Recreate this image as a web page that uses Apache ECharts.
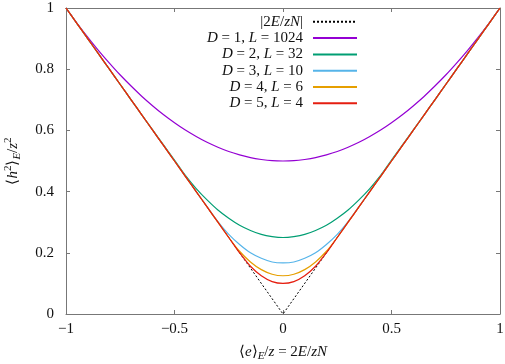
<!DOCTYPE html>
<html>
<head>
<meta charset="utf-8">
<script src="https://cdn.jsdelivr.net/npm/echarts@6/dist/echarts.min.js"></script>
<style>
  html, body { margin: 0; padding: 0; background: #fff; }
  #chart { width: 505px; height: 364px; }
</style>
</head>
<body>
<div id="chart"></div>
<script>
// x grid shared by the five curves
let xs = [-1, -0.95, -0.9, -0.85, -0.8, -0.75, -0.7, -0.65, -0.6, -0.55, -0.5,
  -0.45, -0.4, -0.35, -0.3, -0.25, -0.2, -0.15, -0.1, -0.05, 0,
  0.05, 0.1, 0.15, 0.2, 0.25, 0.3, 0.35, 0.4, 0.45, 0.5,
  0.55, 0.6, 0.65, 0.7, 0.75, 0.8, 0.85, 0.9, 0.95, 1];

// |2E/zN| reference line
let absX = [-1, 0, 1];
let absY = [1, 0, 1];

let d1 = [1, 0.951, 0.905, 0.861, 0.82, 0.781, 0.745, 0.711, 0.68, 0.651, 0.625,
  0.601, 0.58, 0.561, 0.545, 0.531, 0.52, 0.511, 0.505, 0.501, 0.5,
  0.501, 0.505, 0.511, 0.52, 0.531, 0.545, 0.561, 0.58, 0.601, 0.625,
  0.651, 0.68, 0.711, 0.745, 0.781, 0.82, 0.861, 0.905, 0.951, 1];
let d2 = [1, 0.95, 0.9, 0.85, 0.8, 0.75, 0.7, 0.65, 0.601, 0.552, 0.503,
  0.453, 0.41, 0.373, 0.34, 0.313, 0.29, 0.273, 0.26, 0.253, 0.25,
  0.253, 0.26, 0.273, 0.29, 0.313, 0.34, 0.373, 0.41, 0.453, 0.503,
  0.552, 0.601, 0.65, 0.7, 0.75, 0.8, 0.85, 0.9, 0.95, 1];
let d3 = [1, 0.95, 0.9, 0.85, 0.8, 0.75, 0.7, 0.65, 0.6, 0.55, 0.5,
  0.45, 0.4, 0.351, 0.302, 0.26, 0.227, 0.2, 0.182, 0.17, 0.167,
  0.17, 0.182, 0.2, 0.227, 0.26, 0.302, 0.351, 0.4, 0.45, 0.5,
  0.55, 0.6, 0.65, 0.7, 0.75, 0.8, 0.85, 0.9, 0.95, 1];
let d4 = [1, 0.95, 0.9, 0.85, 0.8, 0.75, 0.7, 0.65, 0.6, 0.55, 0.5,
  0.45, 0.4, 0.35, 0.3, 0.25, 0.205, 0.17, 0.145, 0.13, 0.125,
  0.13, 0.145, 0.17, 0.205, 0.25, 0.3, 0.35, 0.4, 0.45, 0.5,
  0.55, 0.6, 0.65, 0.7, 0.75, 0.8, 0.85, 0.9, 0.95, 1];
let d5 = [1, 0.95, 0.9, 0.85, 0.8, 0.75, 0.7, 0.65, 0.6, 0.55, 0.5,
  0.45, 0.4, 0.35, 0.3, 0.25, 0.2, 0.156, 0.125, 0.106, 0.1,
  0.106, 0.125, 0.156, 0.2, 0.25, 0.3, 0.35, 0.4, 0.45, 0.5,
  0.55, 0.6, 0.65, 0.7, 0.75, 0.8, 0.85, 0.9, 0.95, 1];

let seriesNames = ['abs', 'd1', 'd2', 'd3', 'd4', 'd5'];
let legendLabels = {
  abs: '{n||2}{i|E}{n|/}{i|zN}{n||}',
  d1: '{i|D}{n| = 1, }{i|L}{n| = 1024}',
  d2: '{i|D}{n| = 2, }{i|L}{n| = 32}',
  d3: '{i|D}{n| = 3, }{i|L}{n| = 10}',
  d4: '{i|D}{n| = 4, }{i|L}{n| = 6}',
  d5: '{i|D}{n| = 5, }{i|L}{n| = 4}'
};
let colors = ['#000000', '#9400d3', '#009e73', '#56b4e9', '#e69f00', '#e51e10'];

let FONT = 'Liberation Serif';
let axisGray = '#777';

function pairs(x, y){
  return x.map((v, i) => [v, y[i]]);
}

function minusLabel(v){
  if (v < 0) return '\u2212' + (-v);
  return '' + v;
}

let curves = [d1, d2, d3, d4, d5];
let series = [{
  name: 'abs',
  type: 'line',
  data: pairs(absX, absY),
  symbol: 'none',
  lineStyle: { color: colors[0], width: 1, type: [2, 2] },
  itemStyle: { color: colors[0] },
  z: 2
}];
curves.forEach((c, k) => {
  series.push({
    name: seriesNames[k + 1],
    type: 'line',
    data: pairs(xs, c),
    symbol: 'none',
    smooth: 0.3,
    lineStyle: { color: colors[k + 1], width: 1.2 },
    itemStyle: { color: colors[k + 1] },
    z: 3 + k
  });
});

let richText = {
  n: { fontFamily: FONT, fontSize: 15, color: '#111', lineHeight: 20 },
  i: { fontFamily: FONT, fontSize: 15, fontStyle: 'italic', color: '#111', lineHeight: 20 },
  sub: { fontFamily: FONT, fontSize: 11, fontStyle: 'italic', color: '#111', lineHeight: 12, verticalAlign: 'bottom' },
  sup: { fontFamily: FONT, fontSize: 11, color: '#111', lineHeight: 12, verticalAlign: 'top' }
};
let legendRich = {
  n: { fontFamily: FONT, fontSize: 15, color: '#111', lineHeight: 14 },
  i: { fontFamily: FONT, fontSize: 15, fontStyle: 'italic', color: '#111', lineHeight: 14 }
};

// one legend per row, so the row spacing matches the gnuplot key
let legends = seriesNames.map((name, i) => ({
  data: [name],
  orient: 'vertical',
  align: 'right',
  right: 147,
  top: 14.3 + i * 16.3,
  padding: 0,
  itemWidth: 44,
  itemHeight: 14,
  itemStyle: { opacity: 0 },
  formatter: n => legendLabels[n],
  textStyle: { rich: legendRich, lineHeight: 14, padding: [0, 5, 0, 0] }
}));

let tickCommon = { inside: true, length: 4, lineStyle: { color: axisGray } };

let chart = echarts.init(document.getElementById('chart'), null, { renderer: 'canvas' });
chart.setOption({
  animation: false,
  backgroundColor: '#fff',
  grid: { left: 66, right: 5, top: 8, bottom: 50, outerBoundsMode: 'none' },
  legend: legends,
  xAxis: [{
    type: 'value',
    min: -1, max: 1, interval: 0.5,
    name: '{n|\u27e8}{i|e}{n|\u27e9}{sub|E}{n|/}{i|z}{n| = 2}{i|E}{n|/}{i|zN}',
    nameLocation: 'middle',
    nameGap: 28,
    nameTextStyle: { rich: richText },
    axisLine: { show: true, onZero: false, lineStyle: { color: axisGray } },
    axisTick: tickCommon,
    axisLabel: { formatter: minusLabel, fontFamily: FONT, fontSize: 15, color: '#111', margin: 8 },
    splitLine: { show: false }
  }, {
    type: 'value',
    position: 'top',
    min: -1, max: 1, interval: 0.5,
    axisLine: { show: true, onZero: false, lineStyle: { color: axisGray } },
    axisTick: tickCommon,
    axisLabel: { show: false },
    splitLine: { show: false }
  }],
  yAxis: [{
    type: 'value',
    min: 0, max: 1, interval: 0.2,
    name: '{n|\u27e8}{i|h}{sup|2}{n|\u27e9}{sub|E}{n|/}{i|z}{sup|2}',
    nameLocation: 'middle',
    nameRotate: 90,
    nameGap: 43,
    nameTextStyle: { rich: richText },
    axisLine: { show: true, onZero: false, lineStyle: { color: axisGray } },
    axisTick: tickCommon,
    axisLabel: { fontFamily: FONT, fontSize: 15, color: '#111', margin: 12 },
    splitLine: { show: false }
  }, {
    type: 'value',
    position: 'right',
    min: 0, max: 1, interval: 0.2,
    axisLine: { show: true, onZero: false, lineStyle: { color: axisGray } },
    axisTick: tickCommon,
    axisLabel: { show: false },
    splitLine: { show: false }
  }],
  series: series
});
</script>
</body>
</html>
